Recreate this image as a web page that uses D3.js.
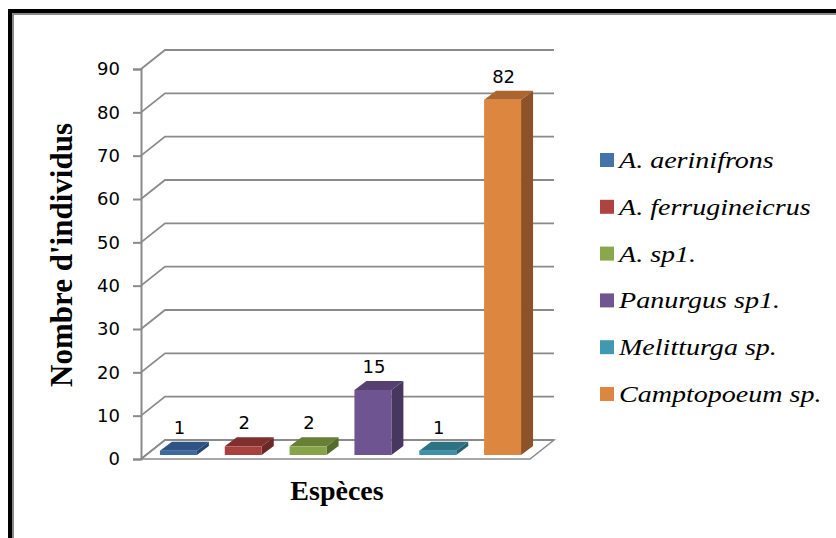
<!DOCTYPE html>
<html>
<head>
<meta charset="utf-8">
<script src="https://cdn.jsdelivr.net/npm/d3@7"></script>
<style>
  body { margin: 0; background: #fff; }
  svg { display: block; }
</style>
</head>
<body>
<div id="chart"></div>
<script>
// chart values
const species = ["A. aerinifrons", "A. ferrugineicrus", "A. sp1.", "Panurgus sp1.", "Melitturga sp.", "Camptopoeum sp."];
const counts = [1, 2, 2, 15, 1, 82];
const yTicks = [0, 10, 20, 30, 40, 50, 60, 70, 80, 90];

// colours: legend / front face / top / side
const legendColors = ["#4672aa", "#ad4442", "#8ba74c", "#705690", "#4099b0", "#dc8640"];
const frontColors  = ["#3e68a0", "#a8403e", "#87a449", "#6e5490", "#3b93ab", "#dc863f"];
const topColors    = ["#2f5384", "#7f302e", "#677f36", "#55406f", "#2e7384", "#ad6530"];
const sideColors   = ["#27456f", "#6b2827", "#566b2d", "#47365d", "#27606f", "#8d5228"];

const width = 836;
const height = 538;
const depth = {dx: 24, dy: -19};        // floor / wall depth
const barOff = {dx: 5, dy: -4};         // bar front offset from floor front
const barDepth = {dx: 12, dy: -9};
const serif = "Liberation Serif";

const svg = d3.select("#chart")
  .append("svg")
  .attr("width", width)
  .attr("height", height);

// frame (black outer + gray inner line)
svg.append("path")
  .attr("d", "M10,538 V11 H836")
  .attr("fill", "none")
  .attr("stroke", "#000")
  .attr("stroke-width", 4);
svg.append("path")
  .attr("d", "M13,538 V14 H836")
  .attr("fill", "none")
  .attr("stroke", "#8a8a8a")
  .attr("stroke-width", 2);

// scales (front plane)
const y = d3.scaleLinear()
  .domain([0, 90])
  .range([459, 69]);

const x = d3.scaleBand()
  .domain(species)
  .range([141, 530])
  .paddingInner(0.43)
  .paddingOuter(0.215);

const grid = "#8a8a8a";

// floor
const fl = [[141, y(0)], [530, y(0)], [530 + depth.dx, y(0) + depth.dy], [141 + depth.dx, y(0) + depth.dy]];
svg.append("path")
  .attr("d", "M" + fl.join("L") + "Z")
  .attr("fill", "#fff")
  .attr("stroke", grid)
  .attr("stroke-width", 1.5);

// gridlines on side + back wall
svg.append("g")
  .selectAll("path")
  .data(yTicks)
  .enter()
  .append("path")
  .attr("d", (d) => `M141,${y(d)} L${141 + depth.dx},${y(d) + depth.dy} H${530 + depth.dx}`)
  .attr("fill", "none")
  .attr("stroke", grid)
  .attr("stroke-width", 1.8);

// y axis
const yAxis = svg.append("g")
  .attr("transform", "translate(141,0)")
  .call(d3.axisLeft(y).tickValues(yTicks).tickSize(8).tickPadding(13));
yAxis.select(".domain").attr("stroke", grid).attr("stroke-width", 2);
yAxis.selectAll(".tick line").attr("stroke", grid).attr("stroke-width", 2);
yAxis.selectAll(".tick text")
  .attr("font-family", "DejaVu Sans")
  .attr("font-size", "18px")
  .attr("fill", "#000");

// bars
const bars = svg.append("g")
  .selectAll("g")
  .data(species)
  .enter()
  .append("g");

bars.each(function (s, i) {
  const g = d3.select(this);
  const x0 = x(s) + barOff.dx;
  const x1 = x0 + x.bandwidth();
  const yb = y(0) + barOff.dy;
  const yt = y(counts[i]) + barOff.dy;
  // side face
  g.append("path")
    .attr("d", `M${x1},${yb} L${x1 + barDepth.dx},${yb + barDepth.dy} L${x1 + barDepth.dx},${yt + barDepth.dy} L${x1},${yt}Z`)
    .attr("fill", sideColors[i]);
  // top face
  g.append("path")
    .attr("d", `M${x0},${yt} L${x1},${yt} L${x1 + barDepth.dx},${yt + barDepth.dy} L${x0 + barDepth.dx},${yt + barDepth.dy}Z`)
    .attr("fill", topColors[i]);
  // front face
  g.append("rect")
    .attr("x", x0)
    .attr("y", yt)
    .attr("width", x.bandwidth())
    .attr("height", yb - yt)
    .attr("fill", frontColors[i]);
  // value label
  g.append("text")
    .attr("x", (x0 + x1) / 2 + 1)
    .attr("y", yt - 17)
    .attr("text-anchor", "middle")
    .attr("font-family", "DejaVu Sans")
    .attr("font-size", "18px")
    .text(counts[i]);
});

// axis titles
svg.append("text")
  .attr("transform", "translate(72,255) rotate(-90)")
  .attr("text-anchor", "middle")
  .attr("font-family", serif)
  .attr("font-weight", "bold")
  .attr("font-size", "31px")
  .text("Nombre d'individus");

svg.append("text")
  .attr("x", 337)
  .attr("y", 500)
  .attr("text-anchor", "middle")
  .attr("font-family", serif)
  .attr("font-weight", "bold")
  .attr("font-size", "28px")
  .text("Espèces");

// legend
const legend = svg.append("g")
  .selectAll("g")
  .data(species)
  .enter()
  .append("g")
  .attr("transform", (d, i) => `translate(600,${160 + i * 46.8})`);

legend.append("rect")
  .attr("x", 0)
  .attr("y", -7)
  .attr("width", 14)
  .attr("height", 14)
  .attr("fill", (d, i) => legendColors[i]);

legend.append("text")
  .attr("transform", "translate(19,8) scale(1.22,1)")
  .attr("font-family", serif)
  .attr("font-style", "italic")
  .attr("font-size", "23px")
  .text((d) => d);
</script>
</body>
</html>
